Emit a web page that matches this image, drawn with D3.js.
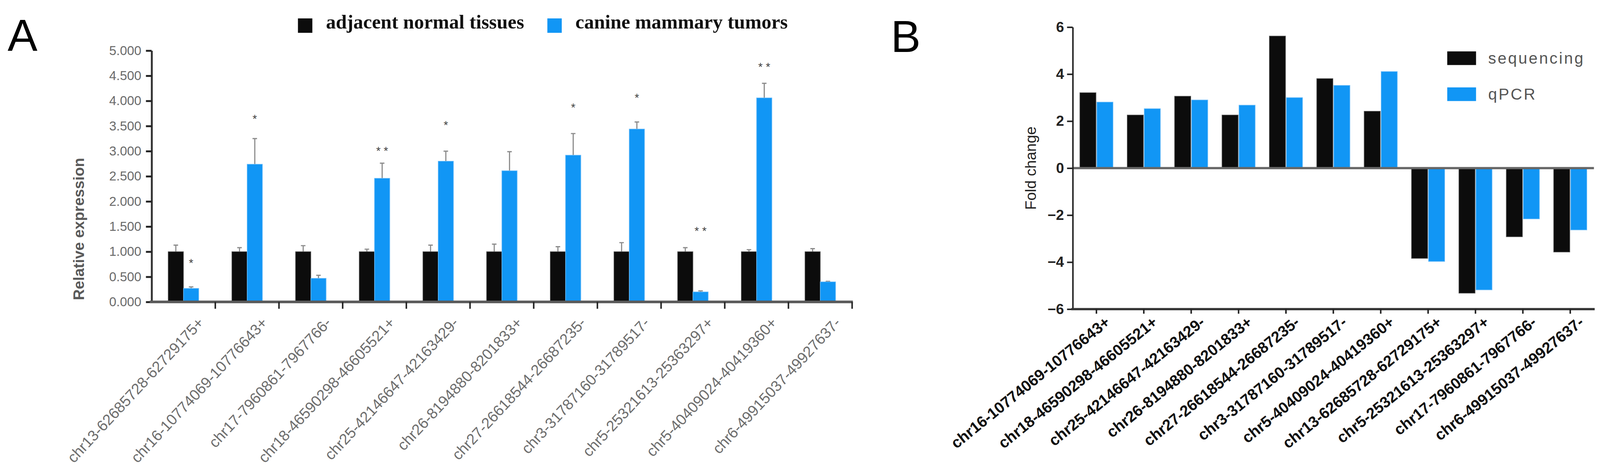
<!DOCTYPE html>
<html>
<head>
<meta charset="utf-8">
<script src="https://cdnjs.cloudflare.com/ajax/libs/d3/7.8.5/d3.min.js"></script>
<style>
  html, body { margin: 0; padding: 0; width: 100%; height: 100%; overflow: hidden; background: #fff; }
  #chart { width: 100%; height: 100%; }
  svg { display: block; }
</style>
</head>
<body>
<div id="chart"></div>
<script>
// ---- panel A data (qPCR, normal vs tumor) ----
const catsA = ["chr13-62685728-62729175+", "chr16-10774069-10776643+", "chr17-7960861-7967766-",
    "chr18-46590298-46605521+", "chr25-42146647-42163429-", "chr26-8194880-8201833+",
    "chr27-26618544-26687235-", "chr3-31787160-31789517-", "chr5-25321613-25363297+",
    "chr5-40409024-40419360+", "chr6-49915037-49927637-"];
const normalA = [1, 1, 1, 1, 1, 1, 1, 1, 1, 1, 1];
const normalErrA = [0.13, 0.08, 0.12, 0.05, 0.13, 0.15, 0.10, 0.18, 0.08, 0.04, 0.06];
const tumorA = [0.27, 2.74, 0.47, 2.46, 2.80, 2.61, 2.92, 3.44, 0.20, 4.06, 0.40];
const tumorErrA = [0.03, 0.51, 0.06, 0.30, 0.20, 0.38, 0.43, 0.14, 0.02, 0.29, 0.01];
const starsA = ["*", "*", "", "**", "*", "", "*", "*", "**", "**", ""];
const starLevelA = [0.79, 3.66, null, 3.02, 3.53, null, 3.88, 4.08, 1.43, 4.69, null];
const ticksA = [0, 0.5, 1, 1.5, 2, 2.5, 3, 3.5, 4, 4.5, 5];
const legendA = ["adjacent normal tissues", "canine mammary tumors"];

// ---- panel B data (fold change) ----
const catsB = ["chr16-10774069-10776643+", "chr18-46590298-46605521+", "chr25-42146647-42163429-",
    "chr26-8194880-8201833+", "chr27-26618544-26687235-", "chr3-31787160-31789517-",
    "chr5-40409024-40419360+", "chr13-62685728-62729175+", "chr5-25321613-25363297+",
    "chr17-7960861-7967766-", "chr6-49915037-49927637-"];
const seqB = [3.21, 2.26, 3.06, 2.26, 5.62, 3.81, 2.42, -3.84, -5.32, -2.92, -3.57];
const qpcrB = [2.81, 2.53, 2.90, 2.68, 3.00, 3.52, 4.11, -3.97, -5.18, -2.16, -2.63];
const ticksB = [-6, -4, -2, 0, 2, 4, 6];
const legendB = ["sequencing", "qPCR"];

const BLACK = "#0c0c0c";
const BLUE = "#1196f5";
const W = 4221, H = 1216;

// fit the drawing to whatever the window is
const svg = d3.select("#chart").append("svg")
    .attr("width", "100%")
    .attr("height", "100%")
    .attr("viewBox", `0 0 ${W} ${H}`)
    .attr("preserveAspectRatio", "xMidYMid meet");

// panel letters
svg.append("text").attr("x", 20).attr("y", 115).text("A")
    .style("font-family", "'Liberation Sans Narrow', 'Liberation Sans', sans-serif")
    .style("font-size", "118px").attr("fill", "#000");
svg.append("text").attr("x", 2350).attr("y", 118).text("B")
    .style("font-family", "'Liberation Sans Narrow', 'Liberation Sans', sans-serif")
    .style("font-size", "118px").attr("fill", "#000");

// ================= panel A =================
const gA = svg.append("g");
const xA = d3.scaleBand().domain(catsA).range([400, 2248]).paddingInner(0.52).paddingOuter(0.26);
const x1A = d3.scaleBand().domain(["n", "t"]).range([0, xA.bandwidth()]);
const yA = d3.scaleLinear().domain([0, 5]).range([778, 115]);

const rowsA = catsA.map((c, i) => ({
    cat: c, i,
    bars: [
        {key: "n", v: normalA[i], e: normalErrA[i], fill: BLACK},
        {key: "t", v: tumorA[i], e: tumorErrA[i], fill: BLUE}
    ]
}));

const groupsA = gA.selectAll(".grpA").data(rowsA).enter().append("g")
    .attr("transform", d => `translate(${xA(d.cat)},0)`);

// error bars (up only)
groupsA.selectAll(".err").data(d => d.bars).enter().append("path")
    .attr("d", b => {
        const cx = x1A(b.key) + x1A.bandwidth() / 2;
        const yt = yA(b.v + b.e);
        return `M${cx},${yA(b.v)}V${yt}M${cx - 6},${yt}H${cx + 6}`;
    })
    .attr("stroke", "#8a8a8a").attr("stroke-width", 3).attr("fill", "none");

groupsA.selectAll(".bar").data(d => d.bars).enter().append("rect")
    .attr("x", b => x1A(b.key))
    .attr("width", x1A.bandwidth())
    .attr("y", b => yA(b.v))
    .attr("height", b => yA(0) - yA(b.v))
    .attr("fill", b => b.fill)
    .attr("stroke", b => b.key === "n" ? "#555" : "#6cbcf8")
    .attr("stroke-width", 1.5);

// significance stars
gA.selectAll(".star").data(rowsA.filter(d => starsA[d.i])).enter().append("text")
    .attr("x", d => xA(d.cat) + x1A("t") + x1A.bandwidth() / 2)
    .attr("y", d => yA(starLevelA[d.i]) + 12)
    .attr("text-anchor", "middle")
    .text(d => starsA[d.i].split("").join(" "))
    .style("font-family", "'Liberation Sans', sans-serif")
    .style("font-size", "30px")
    .attr("fill", "#444");

// y axis
const axA = gA.append("g")
    .attr("transform", "translate(400,0)")
    .call(d3.axisLeft(yA).tickValues(ticksA).tickFormat(d3.format(".3f")).tickSize(15).tickSizeOuter(0).tickPadding(12));
axA.select(".domain").attr("stroke", "#333").attr("stroke-width", 5);
axA.selectAll(".tick line").attr("stroke", "#222").attr("stroke-width", 5);
axA.selectAll(".tick text")
    .style("font-family", "'Liberation Sans', sans-serif")
    .style("font-size", "34px")
    .attr("fill", "#6a6a6a");

// x axis: baseline + separators between groups
gA.append("line")
    .attr("x1", 395).attr("x2", 2250)
    .attr("y1", yA(0)).attr("y2", yA(0))
    .attr("stroke", "#5a5a5a").attr("stroke-width", 7);
gA.selectAll(".sep").data(catsA).enter().append("line")
    .attr("x1", d => xA(d) + xA.bandwidth() / 2 + xA.step() / 2)
    .attr("x2", d => xA(d) + xA.bandwidth() / 2 + xA.step() / 2)
    .attr("y1", yA(0)).attr("y2", yA(0) + 18)
    .attr("stroke", "#222").attr("stroke-width", 4);

gA.selectAll(".xlab").data(catsA).enter().append("text")
    .attr("transform", d => `translate(${xA(d) + xA.bandwidth() / 2 + 56},${yA(0) + 57}) rotate(-47)`)
    .attr("text-anchor", "end")
    .text(d => d)
    .style("font-family", "'Liberation Sans', sans-serif")
    .style("font-size", "40px")
    .attr("fill", "#6e6e6e");

// y title
gA.append("text")
    .attr("transform", `translate(222,${yA(1.45)}) rotate(-90)`)
    .attr("text-anchor", "middle")
    .text("Relative expression")
    .style("font-family", "'Liberation Sans', sans-serif")
    .style("font-weight", "bold")
    .style("font-size", "40px")
    .attr("fill", "#5a5a5a");

// legend A
const legA = gA.selectAll(".legA").data(legendA).enter().append("g")
    .attr("transform", (d, i) => `translate(${i === 0 ? 786 : 1444},30)`);
legA.append("rect").attr("width", 38).attr("height", 38)
    .attr("fill", (d, i) => i === 0 ? BLACK : BLUE);
legA.append("text").attr("x", 74).attr("y", 27).text(d => d)
    .style("font-family", "'Liberation Serif', serif")
    .style("font-weight", "bold")
    .style("font-size", "52px")
    .attr("fill", "#111");

// ================= panel B =================
const gB = svg.append("g");
const xB = d3.scaleBand().domain(catsB).range([2830, 4205]).paddingInner(0.3).paddingOuter(0.15);
const x1B = d3.scaleBand().domain(["s", "q"]).range([0, xB.bandwidth()]).paddingInner(0.05);
const yB = d3.scaleLinear().domain([-6, 6]).range([797, 53]);

const rowsB = catsB.map((c, i) => ({
    cat: c, i,
    bars: [
        {key: "s", v: seqB[i], fill: BLACK},
        {key: "q", v: qpcrB[i], fill: BLUE}
    ]
}));

const groupsB = gB.selectAll(".grpB").data(rowsB).enter().append("g")
    .attr("transform", d => `translate(${xB(d.cat)},0)`);
groupsB.selectAll(".bar").data(d => d.bars).enter().append("rect")
    .attr("x", b => x1B(b.key))
    .attr("width", x1B.bandwidth())
    .attr("y", b => Math.min(yB(b.v), yB(0)))
    .attr("height", b => Math.abs(yB(b.v) - yB(0)))
    .attr("fill", b => b.fill)
    .attr("stroke", b => b.key === "s" ? "#555" : "#6cbcf8")
    .attr("stroke-width", 1.5);

// zero line
gB.append("line")
    .attr("x1", 2830).attr("x2", 4205)
    .attr("y1", yB(0)).attr("y2", yB(0))
    .attr("stroke", "#666").attr("stroke-width", 6);

const axB = gB.append("g")
    .attr("transform", "translate(2830,0)")
    .call(d3.axisLeft(yB).tickValues(ticksB).tickSize(15).tickSizeOuter(0).tickPadding(8));
axB.select(".domain").attr("stroke", "#222").attr("stroke-width", 4);
axB.selectAll(".tick line").attr("stroke", "#222").attr("stroke-width", 4);
axB.selectAll(".tick text")
    .style("font-family", "'Liberation Sans', sans-serif")
    .style("font-weight", "bold")
    .style("font-size", "38px")
    .attr("fill", "#222");

// bottom axis at -6
const axBx = gB.append("g")
    .attr("transform", `translate(0,${yB(-6)})`)
    .call(d3.axisBottom(xB).tickSize(12).tickSizeOuter(0).tickFormat(""));
axBx.select(".domain").attr("stroke", "#333").attr("stroke-width", 6)
    .attr("d", "M2826,0H4207");
axBx.selectAll(".tick line").attr("stroke", "#222").attr("stroke-width", 4);

gB.selectAll(".xlabB").data(catsB).enter().append("text")
    .attr("transform", d => `translate(${xB(d) + xB.bandwidth() / 2 + 20},${yB(-6) + 16}) rotate(-39)`)
    .attr("text-anchor", "end")
    .attr("dominant-baseline", "hanging")
    .text(d => d)
    .style("font-family", "'Liberation Sans', sans-serif")
    .style("font-weight", "bold")
    .style("font-size", "41px")
    .attr("fill", "#111");

gB.append("text")
    .attr("transform", `translate(2733,${yB(0)}) rotate(-90)`)
    .attr("text-anchor", "middle")
    .text("Fold change")
    .style("font-family", "'Liberation Sans', sans-serif")
    .style("font-size", "40px")
    .attr("fill", "#222");

// legend B
const legB = gB.selectAll(".legB").data(legendB).enter().append("g")
    .attr("transform", (d, i) => `translate(3818,${117 + i * 95})`);
legB.append("rect").attr("width", 76).attr("height", 36)
    .attr("fill", (d, i) => i === 0 ? BLACK : BLUE);
legB.append("text").attr("x", 108).attr("y", 32).text(d => d)
    .style("font-family", "'Liberation Sans', sans-serif")
    .style("font-size", "42px")
    .style("letter-spacing", "4px")
    .attr("fill", "#555");
</script>
</body>
</html>
